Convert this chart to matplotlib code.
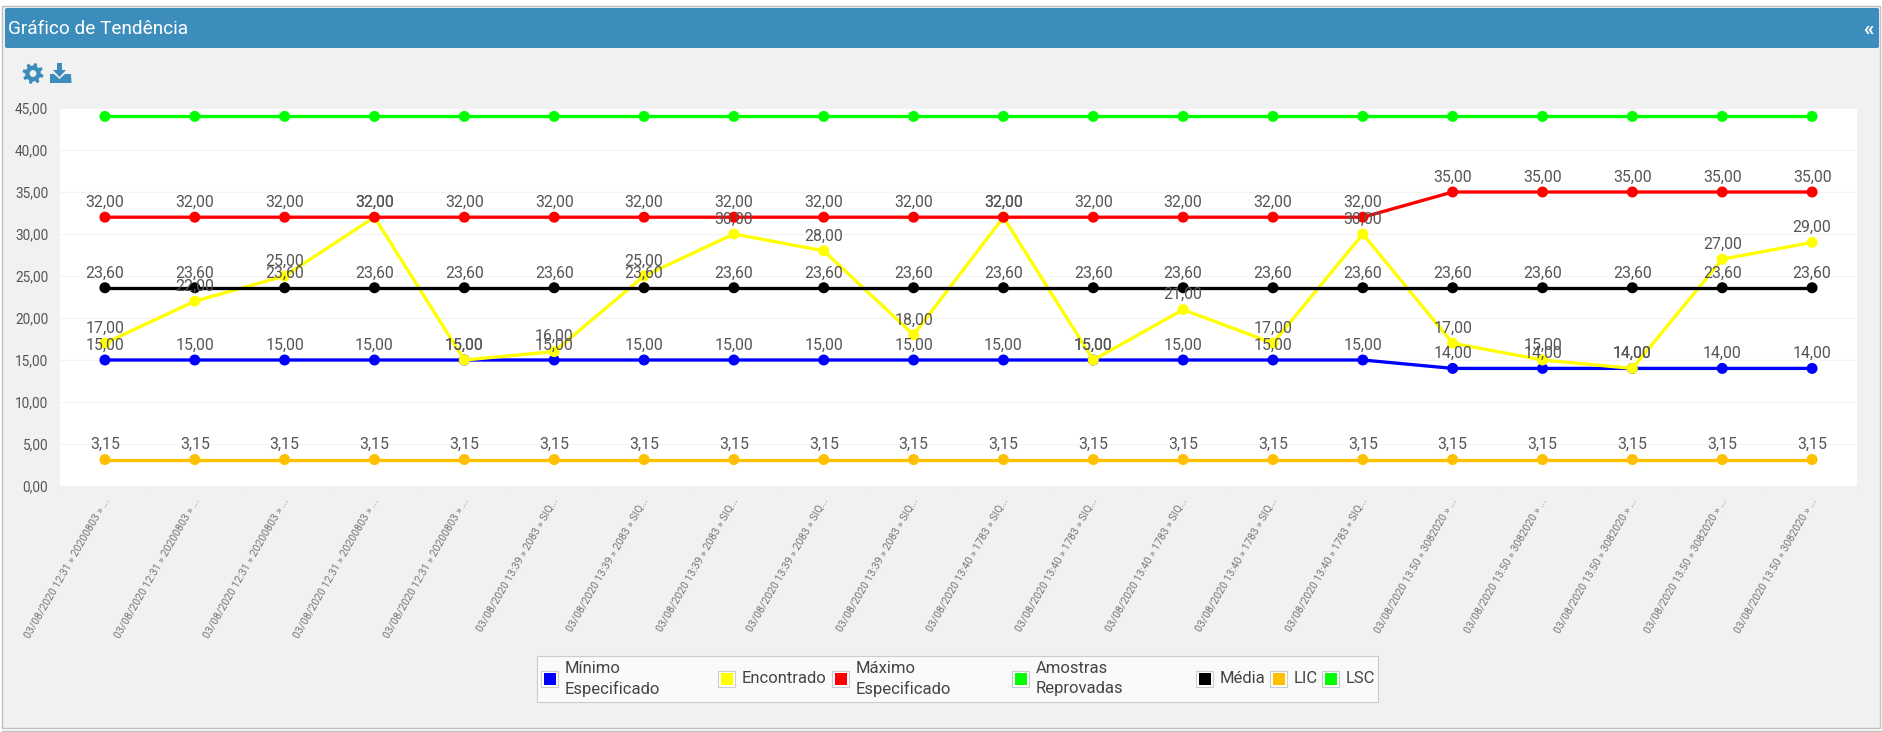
#!/usr/bin/python

import numpy as np
import matplotlib
matplotlib.use('Agg')
import matplotlib.pyplot as plt
import matplotlib.patheffects as pe
from matplotlib.patches import Rectangle, FancyBboxPatch, Polygon, Circle
from matplotlib.transforms import ScaledTranslation

W, H = 1883, 732
PX = 0.72  # points per pixel at dpi 100

categories = (['03/08/2020 12:31 » 20200803 » ...'] * 5
              + ['03/08/2020 13:39 » 2083 » SIQ...'] * 5
              + ['03/08/2020 13:40 » 1783 » SIQ...'] * 5
              + ['03/08/2020 13:50 » 3082020 » ...'] * 5)

minimo = [15] * 15 + [14] * 5
encontrado = [17, 22, 25, 32, 15, 16, 25, 30, 28, 18, 32, 15, 21, 17, 30, 17, 15, 14, 27, 29]
maximo = [32] * 15 + [35] * 5
media = [23.6] * 20
lic = [3.15] * 20
lsc = [44] * 20
y_ticks = [0, 5, 10, 15, 20, 25, 30, 35, 40, 45]

BLUE, YELLOW, RED, LIME, BLACK, AMBER = '#0000ff', '#ffff00', '#ff0000', '#00ff00', '#000000', '#ffc000'

plt.rcParams['font.family'] = ['Roboto', 'DejaVu Sans']


def fmt(v):
    return f'{v:.2f}'.replace('.', ',')


fig = plt.figure(figsize=(W / 100, H / 100), dpi=100, facecolor='#ffffff')

# page chrome, in pixel coordinates
bg = fig.add_axes([0, 0, 1, 1], zorder=0)
bg.set_xlim(0, W)
bg.set_ylim(H, 0)
bg.axis('off')
bg.add_patch(Rectangle((2.5, 5.5), 1877.5, 722.5, fc='#f1f1f1', ec='#c0c0c0', lw=1))
bg.plot([2, 1881], [730.5, 730.5], color='#c0c0c0', lw=1)
bg.add_patch(FancyBboxPatch((6, 9), 1872, 38, boxstyle='round,pad=1,rounding_size=2',
                            fc='#3c8dbc', ec='none'))
bg.text(8, 28.5, 'Gráfico de Tendência', color='white', fontsize=13.7, va='center', ha='left')
bg.text(1868, 29.5, '«', color='white', fontsize=15, fontweight='bold', va='center', ha='center')

# gear icon
teeth = np.linspace(0, 2 * np.pi, 48, endpoint=False)
radii = np.where((np.arange(48) % 6) < 3, 10.5, 7.8)
gx = 33 + radii * np.cos(teeth + 0.13)
gy = 73.5 + radii * np.sin(teeth + 0.13)
bg.add_patch(Polygon(np.column_stack([gx, gy]), fc='#3c8dbc', ec='none'))
bg.add_patch(Circle((33, 73.5), 3.4, fc='#f1f1f1', ec='none'))

# download icon
bg.add_patch(Polygon([(57, 63), (62, 63), (62, 70), (66, 70), (59.5, 77), (53, 70), (57, 70)],
                     fc='#3c8dbc', ec='none'))
bg.add_patch(Polygon([(50, 74), (54, 74), (59.5, 79), (65, 74), (71, 74), (71.5, 83), (50, 83)],
                     fc='#3c8dbc', ec='none'))

# chart
ax = fig.add_axes([60 / W, (H - 486) / H, 1797 / W, 378 / H], zorder=1)
ax.set_facecolor('white')
for s in ax.spines.values():
    s.set_visible(False)

x = np.arange(len(categories))
ax.set_xlim(-0.5, len(categories) - 0.5)
ax.set_ylim(0, 45)
ax.set_yticks(y_ticks, [fmt(v) for v in y_ticks])
ax.yaxis.grid(True, color='#f3f3f3', lw=0.8)
ax.set_axisbelow(True)
ax.tick_params(axis='y', length=0, pad=8.5, labelsize=9.8, labelcolor='#555555')
ax.set_xticks(x, categories, rotation=60, ha='right', rotation_mode='anchor')
ax.tick_params(axis='x', length=0, pad=7.5, labelsize=7.6, labelcolor='#777777')
for lab in ax.get_xticklabels():
    lab.set_transform(lab.get_transform() + ScaledTranslation(-2.5 / 100, 0, fig.dpi_scale_trans))
ax.set_xticks(np.arange(len(categories) + 1) - 0.5, minor=True)
ax.tick_params(axis='x', which='minor', length=3, width=0.6, color='#ebebeb')

# only the point markers carry a soft shadow
shadow = [pe.SimpleLineShadow(offset=(0.9, -0.9), shadow_color='#000000', alpha=0.2), pe.Normal()]
series = [(minimo, BLUE, True), (encontrado, YELLOW, True), (maximo, RED, True),
          (media, BLACK, True), (lic, AMBER, True), (lsc, LIME, False)]
for i, (vals, color, labelled) in enumerate(series):
    ax.plot(x, vals, color=color, lw=3.3 * PX, zorder=3 + i, clip_on=False)
    ax.plot(x, vals, ls='none', color=color, marker='o', ms=11 * PX, mew=0,
            zorder=3 + i, path_effects=shadow, clip_on=False)
    if labelled:
        for xi, v in zip(x, vals):
            ax.annotate(fmt(v), (xi, v), xytext=(0, 14.8 * PX), textcoords='offset points',
                        ha='center', va='center', fontsize=11.4, color='#555555', zorder=20)

# legend, laid out by hand like the html one
leg = fig.add_axes([0, 0, 1, 1], zorder=2)
leg.set_xlim(0, W)
leg.set_ylim(H, 0)
leg.axis('off')
leg.add_patch(Rectangle((537.5, 655.5), 841, 46, fc='#fafafa', ec='#cccccc', lw=0.8))
legend_items = [(['Mínimo', 'Especificado'], BLUE, 541), (['Encontrado'], YELLOW, 718),
                (['Máximo', 'Especificado'], RED, 832), (['Amostras', 'Reprovadas'], LIME, 1012),
                (['Média'], BLACK, 1196), (['LIC'], AMBER, 1270), (['LSC'], LIME, 1322)]
for lines, color, sx in legend_items:
    leg.add_patch(Rectangle((sx + 0.5, 670.5), 17, 16, fc='white', ec='#cccccc', lw=0.8))
    leg.add_patch(Rectangle((sx + 3, 672.5), 12.5, 12, fc=color, ec='none'))
    ys = [668.5, 689] if len(lines) == 2 else [678.5]
    for line, ty in zip(lines, ys):
        leg.text(sx + 24, ty, line, fontsize=12, color='#444444', va='center', ha='left')

fig.savefig('out.png', dpi=100)
